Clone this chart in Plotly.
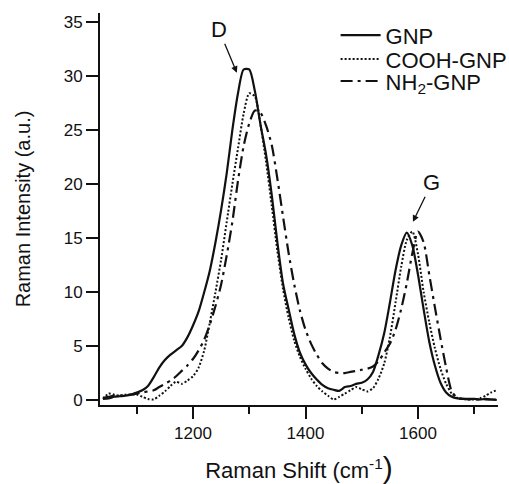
import plotly.graph_objects as go

# Raman shift (cm^-1)
shift = [1040, 1050, 1060, 1070, 1080, 1090, 1100, 1110, 1120, 1130, 1140, 1150, 1160, 1170, 1180,
         1190, 1200, 1210, 1220, 1230, 1240, 1250, 1260, 1270, 1280, 1290, 1300, 1310, 1320, 1330,
         1340, 1350, 1360, 1370, 1380, 1390, 1400, 1410, 1420, 1430, 1440, 1450, 1460, 1470, 1480,
         1490, 1500, 1510, 1520, 1530, 1540, 1550, 1560, 1570, 1580, 1590, 1600, 1610, 1620, 1630,
         1640, 1650, 1660, 1670, 1680, 1690, 1700, 1710, 1720, 1730, 1740]

gnp = [0.1, 0.15, 0.3, 0.35, 0.4, 0.5, 0.7, 0.9, 1.3, 2.1, 3.0, 3.7, 4.2, 4.6, 5.0,
       5.8, 6.9, 8.2, 10.0, 12.0, 14.6, 17.6, 21.0, 25.0, 28.4, 30.6, 30.6, 28.6, 25.5, 22.7,
       19.0, 14.6, 10.8, 8.4, 6.1, 4.4, 3.3, 2.5, 1.9, 1.4, 1.1, 0.95, 0.85, 1.2, 1.3,
       1.5, 1.6, 1.9, 2.6, 4.2, 6.2, 9.0, 12.0, 14.3, 15.5, 14.3, 11.6, 8.4, 5.4, 3.2,
       1.6, 0.7, 0.3, 0.15, 0.1, 0.1, 0.1, 0.05, 0.1, 0.05, 0.0]

cooh = [0.1, 0.6, 0.5, 0.4, 0.5, 0.5, 0.5, 0.3, 0.1, 0.05, 0.4, 0.8, 1.3, 1.7, 1.5,
        1.8, 2.2, 3.0, 4.6, 7.2, 10.0, 13.0, 16.5, 20.0, 23.3, 26.5, 28.4, 28.1, 25.5, 22.0,
        18.0, 13.8, 10.3, 7.6, 5.5, 4.0, 2.9, 2.0, 1.3, 0.8, 0.4, 0.05, 0.3, 0.6, 0.9,
        1.2, 1.0, 0.8, 1.1, 2.0, 3.4, 5.8, 9.0, 12.3, 14.8, 15.6, 13.5, 10.0, 7.2, 4.8,
        2.9, 1.5, 0.6, 0.2, 0.1, 0.05, 0.05, 0.15, 0.4, 0.7, 0.9]

nh2 = [0.2, 0.3, 0.4, 0.4, 0.45, 0.5, 0.6, 0.7, 0.8, 0.9, 1.2, 1.5, 1.8, 2.2, 2.7,
       3.2, 3.8, 4.6, 5.6, 7.0, 8.7, 10.7, 13.4, 16.5, 20.3, 23.5, 25.6, 26.8, 26.6, 25.4,
       23.6, 20.5, 17.0, 13.6, 10.7, 8.3, 6.5, 5.2, 4.2, 3.4, 2.9, 2.6, 2.5, 2.5, 2.6,
       2.7, 2.8, 2.9, 3.1, 3.6, 4.4, 5.2, 6.5, 8.4, 10.8, 13.6, 15.6, 14.6, 11.6, 8.6,
       5.7, 3.0, 0.8, 0.2, 0.1, 0.05, 0.05, 0.05, 0.05, 0.05, 0.05]

names = ["GNP", "COOH-GNP", "NH<sub>2</sub>-GNP"]
dashes = ["solid", "2px,2px", "12px,5px,3px,5px"]
widths = [2.2, 2.0, 2.2]

FONT = "Liberation Sans, Arial, sans-serif"

fig = go.Figure()
series = [gnp, cooh, nh2]
legend_ids = ["legend", "legend2", "legend3"]
for ys, nm, d, w, lg in zip(series, names, dashes, widths, legend_ids):
    fig.add_trace(go.Scatter(x=shift, y=ys, mode="lines", name=nm, legend=lg,
                             line=dict(color="#111111", width=w, dash=d,
                                       shape="spline", smoothing=0.7)))

leg_common = dict(font=dict(family=FONT, size=22, color="#111111"), bgcolor="rgba(0,0,0,0)",
                  itemwidth=40, xanchor="left", yanchor="middle", x=0.592)
fig.update_layout(
    legend=dict(y=0.943, **leg_common),
    legend2=dict(y=0.882, **leg_common),
    legend3=dict(y=0.826, **leg_common),
)

fig.add_annotation(x=1278, y=30.3, ax=-18, ay=-43, text="D", showarrow=True,
                   arrowhead=2, arrowsize=1, arrowwidth=1.3, arrowcolor="#111111",
                   font=dict(family=FONT, size=22, color="#111111"))
fig.add_annotation(x=1591, y=16.5, ax=19, ay=-39, text="G", showarrow=True,
                   arrowhead=2, arrowsize=1, arrowwidth=1.3, arrowcolor="#111111",
                   font=dict(family=FONT, size=22, color="#111111"))

fig.update_layout(
    width=509, height=484,
    margin=dict(l=100, r=11, t=13, b=79, autoexpand=False),
    paper_bgcolor="white", plot_bgcolor="white",
    font=dict(family=FONT, size=17, color="#111111"),
    showlegend=True,
    xaxis=dict(range=[1034.7, 1742.2], tick0=1200, dtick=200, ticks="outside", ticklen=12,
               tickwidth=1.5, tickcolor="#111111", showline=True, linewidth=2, linecolor="#111111",
               showgrid=False, zeroline=False,
               minor=dict(dtick=100, tick0=1100, ticks="outside", ticklen=7, tickwidth=1.5,
                          tickcolor="#111111", showgrid=False),
               title=dict(text="Raman Shift (cm<sup>-1</sup><span style='font-size:30px'>)</span>",
                          font=dict(size=22), standoff=22)),
    yaxis=dict(range=[-0.46, 35.83], tick0=0, dtick=5, ticks="outside", ticklen=12,
               tickwidth=1.5, tickcolor="#111111", showline=True, linewidth=2, linecolor="#111111",
               showgrid=False, zeroline=False,
               title=dict(text="Raman Intensity (a.u.)", font=dict(size=20), standoff=28)),
)

fig.write_html("out.html", config={"displayModeBar": False},
               post_script="document.body.style.margin='0';")
